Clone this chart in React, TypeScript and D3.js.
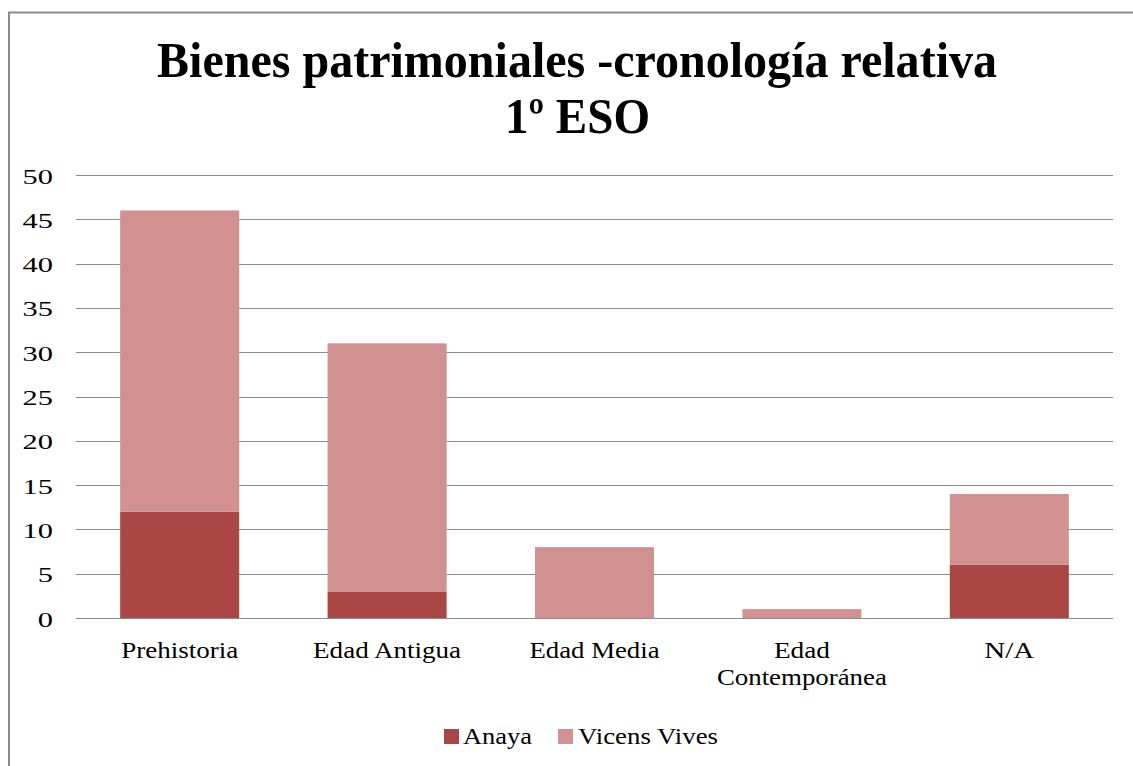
import React from "react";
import * as d3 from "d3";

const categories = ["Prehistoria", "Edad Antigua", "Edad Media", "Edad Contemporánea", "N/A"];
const categoryLines = [["Prehistoria"], ["Edad Antigua"], ["Edad Media"], ["Edad", "Contemporánea"], ["N/A"]];
const categoryLineWidths = [[117], [148], [130], [56, 170], [50]];
const anaya = [12, 3, 0, 0, 6];
const vicensVives = [34, 28, 8, 1, 8];
const seriesNames = ["Anaya", "Vicens Vives"];
const seriesColors = ["#AA4644", "#D29191"];
const yTicks = [0, 5, 10, 15, 20, 25, 30, 35, 40, 45, 50];

export default function App() {
  const W = 1133, H = 766;
  const left = 76, right = 1113, top = 175, bottom = 618;
  const x = d3.scaleBand<string>().domain(categories).range([left, right]).paddingInner(0.426).paddingOuter(0.213);
  const y = d3.scaleLinear().domain([0, 50]).range([bottom, top]);
  const rows = categories.map((c, i) => ({ c, Anaya: anaya[i], "Vicens Vives": vicensVives[i] }));
  const stacked = d3.stack<any>().keys(seriesNames)(rows);
  const font = "'Liberation Serif', 'Times New Roman', serif";
  return (
    <svg width={W} height={H} style={{ position: "absolute", left: 0, top: 0 }} fontFamily={font}>
      <rect x={0} y={0} width={W} height={H} fill="#fff" />
      <path d={`M9,${H} V12.5 H${W}`} fill="none" stroke="#8a8a8a" strokeWidth={2} />
      <text x={577} y={77} textAnchor="middle" fontSize={51} fontWeight="bold" textLength={840} lengthAdjust="spacingAndGlyphs">Bienes patrimoniales -cronología relativa</text>
      <text x={577.5} y={133} textAnchor="middle" fontSize={50} fontWeight="bold" textLength={145} lengthAdjust="spacingAndGlyphs">1º ESO</text>
      {yTicks.map(t => (
        <g key={t}>
          <line x1={left} x2={right} y1={Math.round(y(t)) + 0.5} y2={Math.round(y(t)) + 0.5} stroke="#8c8c8c" strokeWidth={1} />
          <text transform={`translate(53,${y(t) + 8.5}) scale(1.45,1)`} textAnchor="end" fontSize={21}>{t}</text>
        </g>
      ))}
      {stacked.map((s, si) => (
        <g key={si} fill={seriesColors[si]}>
          {s.map((d, i) => (
            <rect key={i} x={x(categories[i])} width={x.bandwidth()} y={y(d[1])} height={y(d[0]) - y(d[1])} />
          ))}
        </g>
      ))}
      {categoryLines.map((lines, i) => (
        <g key={i}>
          {lines.map((l, j) => (
            <text key={j} x={(x(categories[i]) as number) + x.bandwidth() / 2} y={658 + j * 27} textAnchor="middle" fontSize={24}
              textLength={categoryLineWidths[i][j]} lengthAdjust="spacingAndGlyphs">{l}</text>
          ))}
        </g>
      ))}
      <rect x={444} y={729} width={15} height={15} fill={seriesColors[0]} />
      <text x={463} y={744} fontSize={23} textLength={69} lengthAdjust="spacingAndGlyphs">{seriesNames[0]}</text>
      <rect x={558} y={729} width={15} height={15} fill={seriesColors[1]} />
      <text x={578} y={744} fontSize={23} textLength={140} lengthAdjust="spacingAndGlyphs">{seriesNames[1]}</text>
    </svg>
  );
}
